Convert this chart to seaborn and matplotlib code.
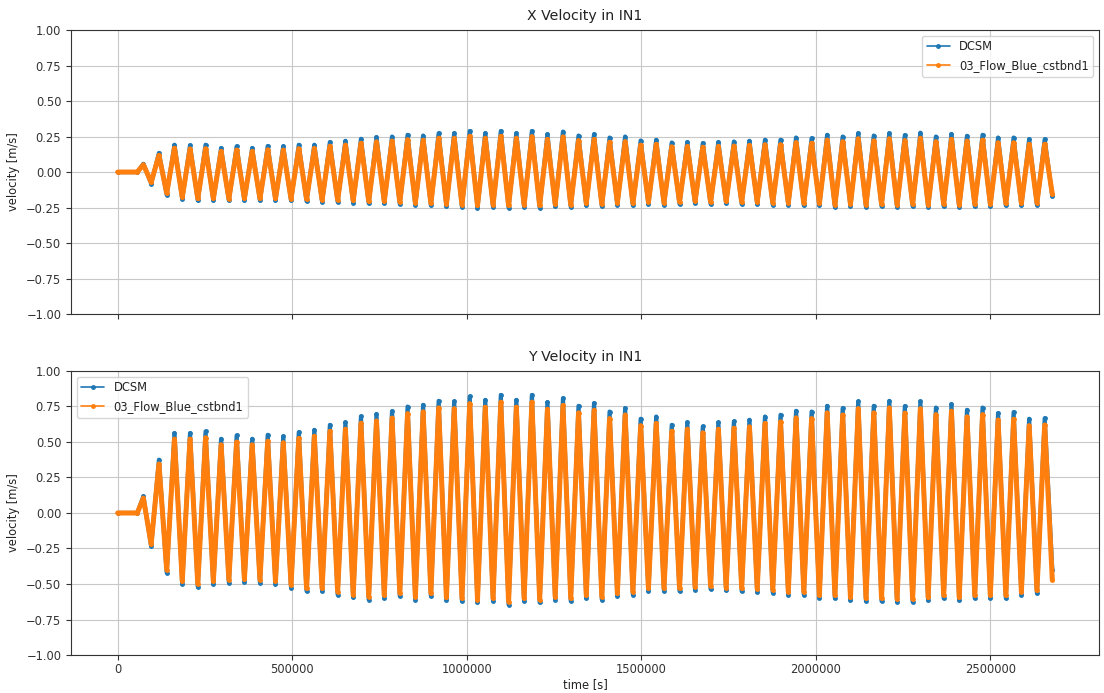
import numpy as np
import pandas as pd
import matplotlib
matplotlib.use("Agg")
import matplotlib.pyplot as plt
from matplotlib.lines import Line2D
import seaborn as sns

# ---------------- data ----------------
series_names = ["DCSM", "03_Flow_Blue_cstbnd1"]
series_colors = ["#1f77b4", "#ff7f0e"]
panel_titles = ["X Velocity in IN1", "Y Velocity in IN1"]

# time grid of the tidal extremes [s]
t_flat_end = 56000          # model at rest until here
t_first_peak = 118100       # first full flood peak
tidal_period = 44528        # spacing between successive peaks
t_end = 2678000             # last output time

# peak values, cycles k = -1 .. 57
x_peak_dcsm = [.058, .134, .192, .188, .192, .169, .181, .169, .183, .181, .192, .192,
               .211, .220, .234, .245, .25, .262, .257, .273, .273, .289, .273, .289,
               .273, .289, .266, .285, .257, .266, .243, .25, .222, .227, .208, .211,
               .204, .211, .215, .22, .227, .227, .243, .238, .262, .25, .273, .257,
               .273, .26, .277, .25, .268, .255, .262, .243, .243, .231, .231]
x_peak_flow = [.052, .118, .168, .163, .165, .145, .155, .145, .157, .155, .165, .166,
               .182, .19, .203, .213, .218, .228, .224, .238, .238, .252, .238, .252,
               .238, .25, .23, .248, .222, .23, .21, .215, .19, .195, .178, .18,
               .175, .18, .183, .188, .193, .193, .208, .203, .225, .214, .235, .22,
               .235, .222, .238, .214, .23, .218, .225, .207, .207, .196, .196]
# trough values, cycles k = -1 .. 56
x_trough_dcsm = [-.081, -.16, -.19, -.20, -.20, -.20, -.20, -.20, -.20, -.20, -.205,
                 -.21, -.21, -.215, -.22, -.22,
                 -.225, -.23, -.235, -.24, -.245, -.25, -.245, -.25, -.245, -.25,
                 -.24, -.245, -.235, -.24, -.23, -.235, -.225, -.23, -.225,
                 -.22, -.225, -.22, -.225, -.225, -.23, -.23, -.235, -.235, -.245,
                 -.24, -.245, -.24, -.245, -.24, -.245, -.24, -.245,
                 -.24, -.24, -.235, -.235, -.23]
x_trough_flow = [-.072, -.148, -.177, -.186, -.186, -.187, -.185, -.186, -.186, -.187,
                 -.19, -.195, -.196, -.2, -.205, -.205,
                 -.21, -.215, -.22, -.225, -.23, -.235, -.23, -.235, -.23, -.235,
                 -.225, -.23, -.22, -.225, -.215, -.22, -.21, -.215, -.21,
                 -.205, -.21, -.205, -.21, -.21, -.215, -.215, -.22, -.22, -.23,
                 -.225, -.23, -.225, -.23, -.225, -.23, -.225, -.23,
                 -.225, -.225, -.22, -.22, -.215]
x_end = [-0.17, -0.155]

y_peak_dcsm = [.117, .375, .562, .562, .574, .522, .546, .522, .55, .539, .569, .585,
               .62, .637, .68, .696, .716, .749, .761, .789, .785, .82, .796, .831,
               .796, .831, .78, .808, .754, .773, .714, .738, .663, .679, .62, .637,
               .609, .637, .644, .656, .679, .691, .719, .714, .754, .738, .785, .754,
               .789, .752, .785, .742, .766, .726, .742, .703, .71, .663, .667]
y_peak_flow = [.105, .345, .52, .52, .53, .48, .5, .48, .505, .495, .525, .54,
               .575, .59, .632, .648, .668, .7, .712, .74, .735, .77, .745, .78,
               .745, .78, .73, .757, .705, .723, .665, .69, .615, .63, .575, .59,
               .565, .59, .597, .607, .63, .642, .67, .665, .705, .69, .735, .705,
               .74, .703, .735, .693, .717, .677, .693, .655, .66, .615, .62]
y_trough_dcsm = [-.234, -.42, -.50, -.52, -.50, -.49, -.485, -.49, -.50, -.525, -.55,
                 -.55, -.575, -.595, -.61, -.60, -.585, -.61, -.585, -.615, -.62, -.63,
                 -.62, -.645, -.62, -.63, -.61, -.62, -.60, -.61, -.585, -.575, -.55,
                 -.55, -.55, -.54, -.535, -.545, -.55, -.555, -.56, -.575, -.575, -.60,
                 -.60, -.615, -.62, -.62, -.625, -.625, -.615, -.60, -.615, -.60, -.60,
                 -.60, -.575, -.565]
y_trough_flow = [-.22, -.40, -.48, -.50, -.48, -.47, -.465, -.47, -.48, -.505, -.53,
                 -.53, -.555, -.575, -.59, -.58, -.565, -.59, -.565, -.595, -.60, -.61,
                 -.60, -.625, -.60, -.61, -.59, -.60, -.58, -.59, -.565, -.555, -.53,
                 -.53, -.53, -.52, -.515, -.525, -.53, -.535, -.54, -.555, -.555, -.58,
                 -.58, -.595, -.60, -.60, -.605, -.605, -.595, -.58, -.595, -.58, -.58,
                 -.58, -.555, -.545]
y_end = [-0.40, -0.47]

y_ticks = [-1.0, -0.75, -0.5, -0.25, 0.0, 0.25, 0.5, 0.75, 1.0]
x_ticks = [0, 500000, 1000000, 1500000, 2000000, 2500000]


def build_series(peaks, troughs, end_value):
    vals = []
    for i in range(len(troughs)):
        vals.append(peaks[i])
        vals.append(troughs[i])
    vals.append(peaks[-1])
    times = t_first_peak + (np.arange(len(vals)) - 2) * tidal_period / 2.0
    t = np.concatenate([[0.0, t_flat_end], times, [t_end]])
    v = np.concatenate([[0.0, 0.0], vals, [end_value]])
    return pd.DataFrame({"time": t, "velocity": v})


panels = [
    [build_series(x_peak_dcsm, x_trough_dcsm, x_end[0]),
     build_series(x_peak_flow, x_trough_flow, x_end[1])],
    [build_series(y_peak_dcsm, y_trough_dcsm, y_end[0]),
     build_series(y_peak_flow, y_trough_flow, y_end[1])],
]

# ---------------- figure ----------------
sns.set_style("ticks")
plt.rcParams.update({
    "font.family": ["DejaVu Sans"],
    "font.size": 8.3,
    "axes.titlesize": 10.2,
    "axes.labelsize": 8.3,
    "xtick.labelsize": 8.3,
    "ytick.labelsize": 8.3,
    "legend.fontsize": 8.3,
    "axes.edgecolor": "#333333",
    "text.color": "#222222",
    "axes.labelcolor": "#222222",
    "xtick.color": "#333333",
    "ytick.color": "#333333",
    "axes.linewidth": 0.8,
    "xtick.major.pad": 2.5,
})

fig, axes = plt.subplots(2, 1, figsize=(11.04, 6.93), dpi=100, sharex=True)
fig.subplots_adjust(left=0.0643, right=0.9955, top=0.9567, bottom=0.0548, hspace=0.2)

legend_locs = ["upper right", "upper left"]
line_widths = [3.0, 3.6]
for ax, data, title, loc in zip(axes, panels, panel_titles, legend_locs):
    for df, name, col, lw in zip(data, series_names, series_colors, line_widths):
        sns.lineplot(data=df, x="time", y="velocity", ax=ax, color=col,
                     sort=False, estimator=None, linewidth=lw,
                     marker=".", markersize=7, markeredgewidth=0,
                     solid_joinstyle="round", solid_capstyle="round",
                     legend=False)
    ax.set_title(title, pad=7)
    ax.set_ylim(-1.0, 1.0)
    ax.set_yticks(y_ticks)
    ax.set_yticklabels([f"{v:.2f}".replace("-", "\u2212") for v in y_ticks])
    ax.set_ylabel("velocity [m/s]")
    ax.set_xlabel("")
    ax.grid(True, color="#c8c8c8", linewidth=0.8)
    ax.set_axisbelow(True)
    handles = [Line2D([], [], color=c, lw=1.2, marker=".", markersize=5)
               for c in series_colors]
    ax.legend(handles, series_names, loc=loc, framealpha=0.8)

axes[1].set_xticks(x_ticks)
axes[1].set_xticklabels([str(v) for v in x_ticks])
axes[1].set_xlabel("time [s]", labelpad=1)
axes[0].tick_params(labelbottom=False)

fig.savefig("out.png", dpi=100)
